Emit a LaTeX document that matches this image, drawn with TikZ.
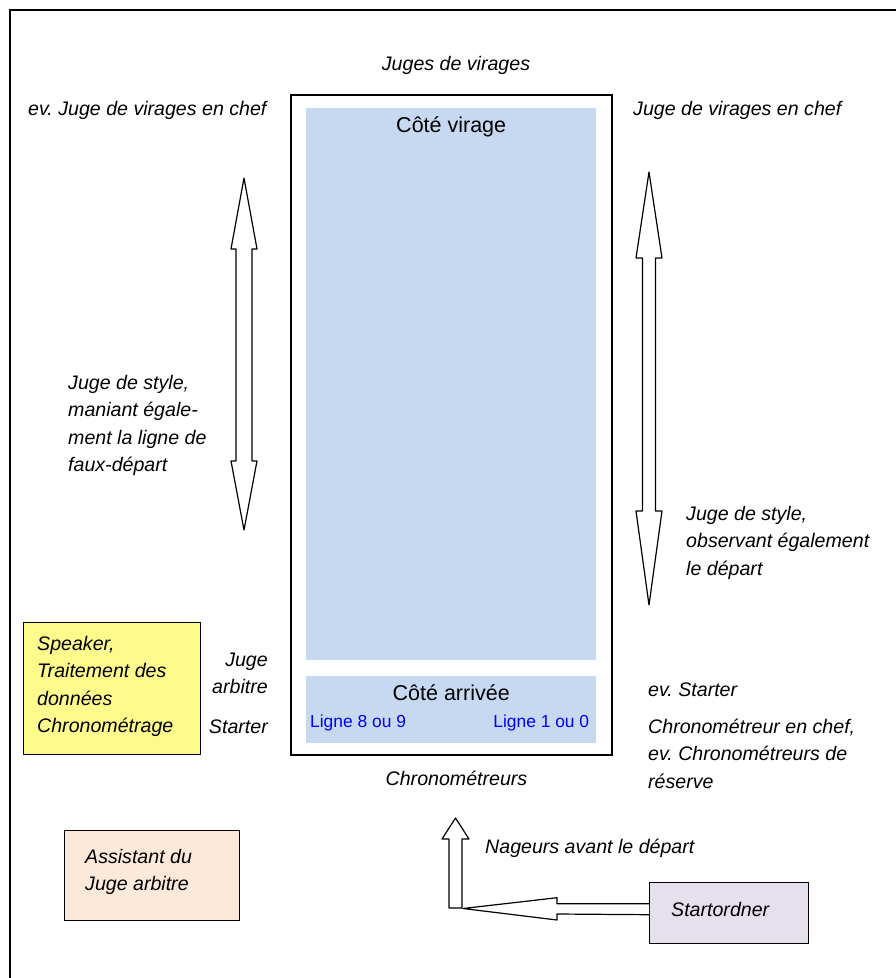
\documentclass[tikz,border=0pt]{standalone}
\usepackage{fontspec}
\setmainfont{Liberation Sans}
\frenchspacing
\usetikzlibrary{positioning}
\definecolor{bassinbleu}{RGB}{198,217,241}
\definecolor{speakerjaune}{RGB}{255,250,140}
\definecolor{assistantrose}{RGB}{253,233,217}
\definecolor{startmauve}{RGB}{229,224,236}
\definecolor{lignebleu}{RGB}{0,0,255}

\begin{document}
\begin{tikzpicture}[x=1pt, y=-1pt, every node/.style={inner sep=0pt},
    etiquette/.style={font=\fontsize{19.6}{27.5}\selectfont\itshape, align=left},
    titre/.style={font=\fontsize{21.5}{26}\selectfont},
    ligne/.style={font=\fontsize{17.4}{20}\selectfont, text=lignebleu},
    boite/.style={draw, line width=1.4pt, anchor=north west},
    fleche/.style={draw, line width=1.2pt, fill=white, line join=round}]
			\useasboundingbox (0,0) rectangle (896,978);
			\clip (0,0) rectangle (896,978);
			% Outer frame
			\draw[line width=1.6pt] (10,10) rectangle (905,990);
			
			% Pool
			\node[boite, line width=1.8pt, minimum width=321pt, minimum height=660pt] (bassin) at (290,94) {};
			\node[fill=bassinbleu, anchor=north west, minimum width=290pt, minimum height=552pt] (virage) at (306,108) {};
			\node[fill=bassinbleu, anchor=north west, minimum width=290pt, minimum height=67pt] (arrivee) at (306,676) {};
			\node[titre, anchor=base] (cotevirage) at ([yshift=-24pt]virage.north) {Côté virage};
			\node[titre, anchor=base] (cotearrivee) at ([yshift=-24pt]arrivee.north) {Côté arrivée};
			\node[ligne, anchor=base west] (ligne89) at ([xshift=4pt, yshift=-51pt]arrivee.north west) {Ligne 8 ou 9};
			\node[ligne, anchor=base east] (ligne10) at ([xshift=-7pt, yshift=-51pt]arrivee.north east) {Ligne 1 ou 0};
			
			% Officials round the pool
			\node[etiquette, anchor=base] (jugesvirages) at (456,70) {Juges de virages};
			\node[etiquette, anchor=base west] (chefgauche) at (28,115) {ev. Juge de virages en chef};
			\node[etiquette, anchor=base west] (chefdroite) at (633,115) {Juge de virages en chef};
			\node[etiquette, anchor=north west] (stylegauche) at (68,374.7) {Juge de style,\\ maniant égale-\\ ment la ligne de\\ faux-départ};
			\node[etiquette, anchor=north west] (styledroite) at (686,505.7) {Juge de style,\\ observant également\\ le départ};
			\node[etiquette, anchor=north east, align=right] (jugearbitre) at (268,652.7) {Juge\\ arbitre};
			\node[etiquette, anchor=base east] (starter) at (268,733) {Starter};
			\node[etiquette, anchor=base] (chronos) at (456.5,785) {Chronométreurs};
			\node[etiquette, anchor=base west] (evstarter) at (648,696) {ev. Starter};
			\node[etiquette, anchor=north west] (chefchrono) at (648,718.7) {Chronométreur en chef,\\ ev. Chronométreurs de\\ réserve};
			\node[etiquette, anchor=base west] (nageurs) at (485,853) {Nageurs avant le départ};
			
			% Boxes
			\node[boite, fill=speakerjaune, minimum width=177pt, minimum height=132pt] (speaker) at (23,622) {};
			\node[etiquette, anchor=north west] (speakertexte) at ([xshift=14pt, yshift=-13.7pt]speaker.north west) {Speaker,\\ Traitement des\\ données\\ Chronométrage};
			\node[boite, fill=assistantrose, minimum width=175pt, minimum height=90pt] (assistant) at (64,830) {};
			\node[etiquette, anchor=north west] (assistanttexte) at ([xshift=21pt, yshift=-18.7pt]assistant.north west) {Assistant du\\ Juge arbitre};
			\node[boite, fill=startmauve, minimum width=159pt, minimum height=61pt] (startordner) at (649,882) {};
			\node[etiquette, anchor=base west] (startordnertexte) at ([xshift=22pt, yshift=-34pt]startordner.north west) {Startordner};
			
			% Double arrows along the pool
			\foreach \cx/\haut/\bh/\bb/\bas/\demi in {244/178/249/461/530/8, 649/172/258/511/605/6.5}
				\draw[fleche] (\cx-\demi,\bh) -- (\cx-13,\bh) -- (\cx,\haut) -- (\cx+13,\bh) -- (\cx+\demi,\bh)
					-- (\cx+\demi,\bb) -- (\cx+13,\bb) -- (\cx,\bas) -- (\cx-13,\bb) -- (\cx-\demi,\bb) -- cycle;
			
			% Swimmers path from Startordner
			\draw[fleche] (449,908) -- (449,839) -- (442,839) -- (455.5,818) -- (469,839) -- (462,839) -- (462,908) -- cycle;
			\draw[fleche] ([yshift=9.5pt]startordner.west) -- ++(-92,0) -- ++(0,-6) -- (463,908.5) -- (557,920) -- ++(0,-6) -- ([yshift=-1.5pt]startordner.west);
		\end{tikzpicture}
\end{document}
